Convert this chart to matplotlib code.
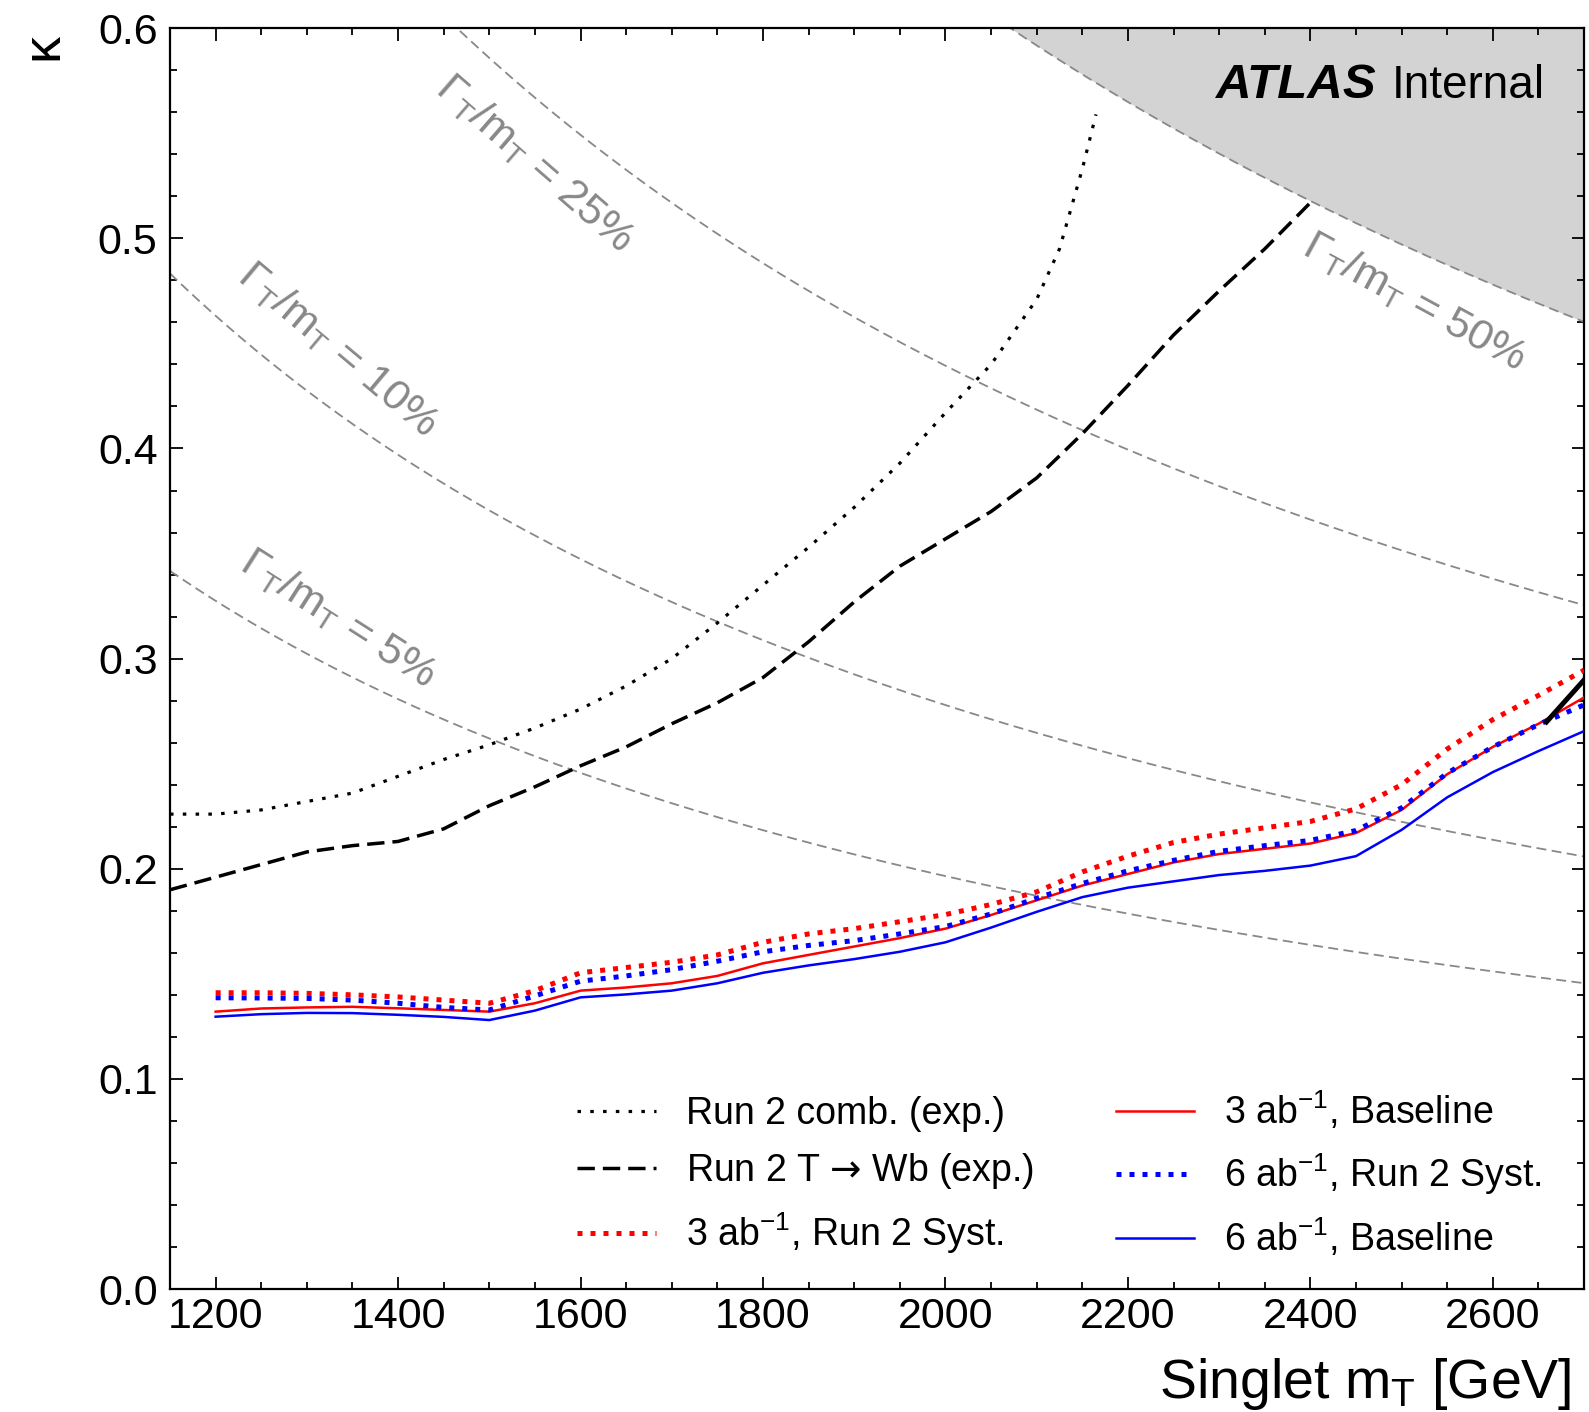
import numpy as np
import matplotlib
matplotlib.use("Agg")
import matplotlib.pyplot as plt
from matplotlib.ticker import MultipleLocator

plt.rcParams['font.family'] = ['Liberation Sans', 'DejaVu Sans']
plt.rcParams['mathtext.fontset'] = 'custom'
plt.rcParams['mathtext.rm'] = 'Liberation Sans'
plt.rcParams['mathtext.it'] = 'Liberation Sans:italic'
plt.rcParams['mathtext.bf'] = 'Liberation Sans:bold'
plt.rcParams['mathtext.sf'] = 'DejaVu Sans'

# ---------------- data ----------------
mass = [1200, 1250, 1300, 1350, 1400, 1450, 1500, 1550, 1600, 1650, 1700, 1750,
        1800, 1850, 1900, 1950, 2000, 2050, 2100, 2150, 2200, 2250, 2300, 2350,
        2400, 2450, 2500, 2550, 2600, 2650, 2700]
k_3ab_base = [0.132, 0.1335, 0.134, 0.1343, 0.1336, 0.1328, 0.132, 0.136, 0.142, 0.1435,
              0.1455, 0.149, 0.155, 0.159, 0.163, 0.167, 0.1715, 0.178, 0.185, 0.192,
              0.1975, 0.203, 0.207, 0.2095, 0.212, 0.217, 0.228, 0.245, 0.258, 0.269, 0.2815]
k_6ab_base = [0.1296, 0.1308, 0.1314, 0.1313, 0.1305, 0.1295, 0.128, 0.1325, 0.1388, 0.1402,
              0.142, 0.1455, 0.1505, 0.154, 0.157, 0.1605, 0.165, 0.172, 0.1795, 0.1865,
              0.191, 0.194, 0.197, 0.199, 0.2015, 0.206, 0.2185, 0.234, 0.246, 0.256, 0.2655]
k_3ab_run2 = [0.141, 0.141, 0.1407, 0.140, 0.139, 0.1375, 0.136, 0.142, 0.1505, 0.153,
              0.1555, 0.159, 0.165, 0.169, 0.1715, 0.1748, 0.1782, 0.183, 0.189, 0.1985,
              0.206, 0.2125, 0.2165, 0.2195, 0.2225, 0.2285, 0.240, 0.257, 0.271, 0.2825, 0.2945]
k_6ab_run2 = [0.1386, 0.1385, 0.1383, 0.1375, 0.136, 0.134, 0.1328, 0.1395, 0.1465, 0.149,
              0.152, 0.156, 0.1605, 0.1635, 0.1658, 0.169, 0.1725, 0.1785, 0.186, 0.193,
              0.199, 0.204, 0.2083, 0.211, 0.2135, 0.2182, 0.229, 0.2455, 0.258, 0.2686, 0.278]

mass_comb = [1150, 1200, 1250, 1300, 1350, 1400, 1450, 1500, 1550, 1600, 1650, 1700,
             1750, 1800, 1850, 1900, 1950, 2000, 2050, 2100, 2125, 2150, 2165]
k_comb = [0.226, 0.226, 0.228, 0.232, 0.236, 0.244, 0.252, 0.259, 0.267, 0.276, 0.287,
          0.300, 0.317, 0.335, 0.353, 0.372, 0.393, 0.417, 0.440, 0.471, 0.495, 0.533, 0.559]

mass_wb = [1150, 1200, 1250, 1300, 1350, 1400, 1450, 1500, 1550, 1600, 1650, 1700, 1750,
           1800, 1850, 1900, 1950, 2000, 2050, 2100, 2150, 2200, 2250, 2300, 2350, 2400]
k_wb = [0.190, 0.196, 0.202, 0.208, 0.211, 0.213, 0.219, 0.230, 0.239, 0.249, 0.258,
        0.269, 0.279, 0.291, 0.308, 0.327, 0.344, 0.357, 0.370, 0.386, 0.407, 0.430,
        0.454, 0.475, 0.495, 0.517]

mass_seg = [2657, 2703]
k_seg = [0.269, 0.2913]

width_fracs = [0.05, 0.10, 0.25, 0.50]
width_labels = ["5%", "10%", "25%", "50%"]
kappa_m_5pct = 393.0   # kappa * m_T [GeV] on the 5% width contour
label_pos = [(1334, 0.319, -32.5), (1334, 0.447, -40), (1550, 0.536, -41), (2514, 0.470, -28.5)]

xticks = [1200, 1400, 1600, 1800, 2000, 2200, 2400, 2600]
yticks = [0.0, 0.1, 0.2, 0.3, 0.4, 0.5, 0.6]

# ---------------- figure ----------------
fig = plt.figure(figsize=(15.89, 14.12), dpi=100)
ax = fig.add_axes([0.107, 0.0871, 0.8899, 0.8929])
xlim = (1150, 2700)
ylim = (0.0, 0.6)

mgrid = np.linspace(xlim[0], xlim[1], 400)
gray = '#888888'
for f in width_fracs:
    kk = kappa_m_5pct * np.sqrt(f / 0.05) / mgrid
    ax.plot(mgrid, kk, color=gray, lw=1.3, dashes=(5.5, 3), zorder=2)
    if f == 0.50:
        ax.fill_between(mgrid, kk, ylim[1], color='#d3d3d3', zorder=1, lw=0)

for (lx, ly, rot), lab in zip(label_pos, width_labels):
    ax.text(lx, ly, r"$\mathit{\Gamma}_{\mathrm{T}}/\mathrm{m}_{\mathrm{T}}$ = " + lab,
            color='#888888', fontsize=31, rotation=rot, ha='center', va='center',
            rotation_mode='anchor', zorder=3)

l1, = ax.plot(mass_comb, k_comb, color='black', lw=2.3, dashes=(1.1, 2.9),
              label='Run 2 comb. (exp.)', zorder=5)
l2, = ax.plot(mass_wb, k_wb, color='black', lw=2.5, dashes=(5, 2.3),
              label='Run 2 T $\\mathsf{→}$ Wb (exp.)', zorder=5)
l3, = ax.plot(mass, k_3ab_run2, color='red', lw=3.6, dashes=(1, 1.6),
              label=r'3 ab$^{-1}$, Run 2 Syst.', zorder=6)
l4, = ax.plot(mass, k_3ab_base, color='red', lw=1.8,
              label=r'3 ab$^{-1}$, Baseline', zorder=6)
l5, = ax.plot(mass, k_6ab_run2, color='blue', lw=3.6, dashes=(1, 1.6),
              label=r'6 ab$^{-1}$, Run 2 Syst.', zorder=6)
l6, = ax.plot(mass, k_6ab_base, color='blue', lw=1.8,
              label=r'6 ab$^{-1}$, Baseline', zorder=6)
ax.plot(mass_seg, k_seg, color='black', lw=3.6, zorder=7, solid_capstyle='butt')

ax.set_xlim(*xlim)
ax.set_ylim(*ylim)
ax.set_xticks(xticks)
ax.set_yticks(yticks)
ax.set_yticklabels([f"{v:.1f}" for v in yticks])
ax.xaxis.set_minor_locator(MultipleLocator(50))
ax.yaxis.set_minor_locator(MultipleLocator(0.02))
ax.tick_params(which='both', direction='in', top=True, right=True, width=1.3)
ax.tick_params(which='major', length=9, labelsize=31)
ax.tick_params(which='minor', length=5)
ax.tick_params(axis='x', which='major', pad=6)
ax.tick_params(axis='y', which='major', pad=9)
for s in ax.spines.values():
    s.set_linewidth(1.6)

leg = ax.legend(handles=[l1, l2, l3, l4, l5, l6], ncol=2, frameon=False, fontsize=27,
                loc='lower right', bbox_to_anchor=(0.994, -0.003),
                handlelength=2.1, handletextpad=0.8, columnspacing=2.17, labelspacing=0.52)

ax.text(0.739, 0.9445, 'ATLAS', transform=ax.transAxes, fontsize=35.5,
        fontweight='bold', fontstyle='italic', ha='left', va='baseline', zorder=8)
ax.text(0.972, 0.9445, 'Internal', transform=ax.transAxes, fontsize=33,
        ha='right', va='baseline', zorder=8)

fig.text(0.9887, 0.0099, r'Singlet m$_{\mathrm{T}}$ [GeV]', fontsize=40,
         ha='right', va='baseline')
fig.text(0.027, 0.967, 'κ', fontsize=39, rotation=90, ha='center', va='center')

fig.savefig('out.png', dpi=100)
